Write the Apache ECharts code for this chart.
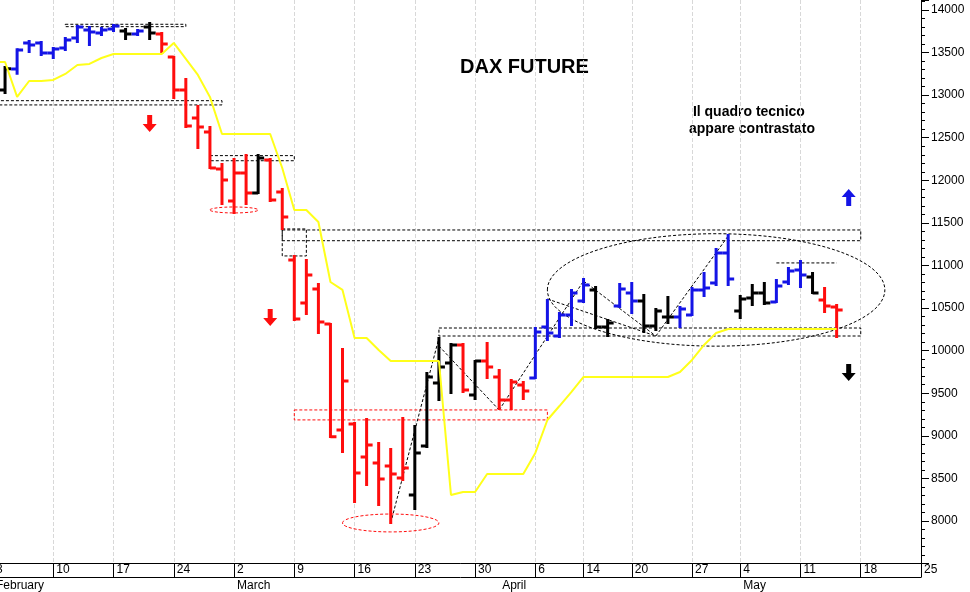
<!DOCTYPE html>
<html>
<head>
    <meta charset="UTF-8">
    <title>DAX Future</title>
    <script src="https://cdn.jsdelivr.net/npm/echarts@6/dist/echarts.min.js"></script>
</head>
<body style="margin:0;overflow:hidden;background:#fff">
<div id="chart" style="width:970px;height:592px"></div>
<script type="text/javascript">
    // trading days, Feb 3 .. May 25 (holidays Apr 10, Apr 13, May 1 left out)
    var days = [
        '02-03','02-04','02-05','02-06','02-07','02-10','02-11','02-12','02-13','02-14',
        '02-17','02-18','02-19','02-20','02-21','02-24','02-25','02-26','02-27','02-28',
        '03-02','03-03','03-04','03-05','03-06','03-09','03-10','03-11','03-12','03-13',
        '03-16','03-17','03-18','03-19','03-20','03-23','03-24','03-25','03-26','03-27',
        '03-30','03-31','04-01','04-02','04-03','04-06','04-07','04-08','04-09','04-14',
        '04-15','04-16','04-17','04-20','04-21','04-22','04-23','04-24','04-27','04-28',
        '04-29','04-30','05-04','05-05','05-06','05-07','05-08','05-11','05-12','05-13',
        '05-14','05-15','05-18','05-19','05-20','05-21','05-22','05-25'
    ];
    var weekLabels = {0: '3', 5: '10', 10: '17', 15: '24', 20: '2', 25: '9', 30: '16', 35: '23', 40: '30',
        45: '6', 49: '14', 53: '20', 58: '27', 62: '4', 67: '11', 72: '18', 77: '25'};
    var monthLabels = {0: 'February', 20: 'March', 42: 'April', 62: 'May'};

    var openVals = [13000,13060,13307,13612,13612,13495,13554,13671,13765,13730,
        13777,13753,13718,13800,13718,13448,13060,12732,12568,12133,
        11757,12086,11851,12238,11863,11065,10560,10724,10313,9069,
        9139,8752,8682,8646,8505,8306,8881,9621,9856,10067,
        9480,9879,9691,9421,9597,9679,10278,10173,10419,10584,
        10712,10278,10525,10677,10584,10290,10396,10396,10419,10712,
        10795,11147,10466,10618,10677,10572,10806,10947,10865,10595,10513];
    var highVals = [13100,13331,13540,13636,13624,13554,13671,13812,13800,13789,
        13824,13777,13765,13847,13730,13448,13190,12873,12626,12192,
        12250,12298,12298,12250,11898,11112,11065,10783,10313,10020,
        9150,9198,8916,8846,9210,9116,9738,10149,10078,10078,
        9879,10090,9773,9656,9633,10267,10595,10443,10712,10842,
        10748,10360,10783,10795,10654,10490,10630,10513,10736,10912,
        11194,11358,10642,10771,10795,10830,10971,11053,10912,10736,10537];
    var lowVals = [12950,13025,13250,13507,13471,13437,13530,13624,13589,13706,
        13753,13660,13706,13660,13495,12967,12626,12380,12145,11722,
        11617,11722,11851,11757,11429,10360,10430,10208,8987,8810,
        8224,8423,8188,7977,8482,8141,8869,9421,9503,9515,
        9433,9679,9315,9315,9433,9679,10126,10161,10302,10572,
        10267,10173,10513,10443,10220,10243,10325,10278,10419,10642,
        10771,10771,10384,10537,10548,10572,10783,10748,10677,10455,10161];
    var closeVals = [13060,13310,13530,13590,13495,13542,13648,13800,13742,13765,
        13812,13718,13753,13730,13600,13060,12638,12626,12145,12004,
        12086,11851,12262,11770,11570,10372,10889,10337,8990,9644,
        8564,8893,8494,8552,8623,8799,9691,9808,10067,9538,
        9879,9808,9421,9633,9527,10220,10208,10419,10677,10771,
        10278,10325,10724,10584,10290,10466,10396,10490,10712,10736,
        11147,10842,10607,10677,10560,10760,10936,10889,10677,10525,10478];
    // b = rialzo, r = ribasso, k = neutrale
    var trend = ['k','k','b','b','b','b','b','b','b','b',
        'b','k','b','k','r','r','r','r','r','r',
        'r','r','k','r','r','r','r','r','r','r',
        'r','r','r','r','r','k','k','k','k','r',
        'k','r','r','r','r','b','b','b','b','b',
        'k','k','b','b','k','k','k','b','b','b',
        'b','b','k','k','k','b','b','b','k','r','r'];
    var stopLine = [13389,13389,12979,13166,13166,13178,13249,13354,13366,13436,
        13483,13483,13483,13483,13483,13613,13425,13237,12979,12544,
        12544,12544,12544,12544,12145,11652,11652,11511,10806,10713,
        10149,10149,10008,9879,9879,9879,9879,9879,8306,8341,
        8341,8552,8552,8552,8552,8799,9186,9350,9515,9691,
        9691,9691,9691,9691,9691,9691,9691,9750,9891,10067,
        10208,10255,10255,10255,10255,10255,10255,10255,10255,10255,10255];

    // annotation boxes: [x0, x1, yLow, yHigh, colour]
    var boxes = [
        [6.2, 16.0, 13804, 13832, 'k'],
        [-0.6, 18.9, 12885, 12935, 'k'],
        [18.0, 25.0, 12230, 12290, 'k'],
        [24.0, 71.8, 11291, 11417, 'k'],
        [24.0, 26.0, 11112, 11429, 'k'],
        [36.9, 71.8, 10172, 10266, 'k'],
        [25.0, 45.8, 9187, 9304, 'r']
    ];
    // trend lines: [x0, y0, x1, y1]
    var segments = [
        [64.75, 11030, 69.6, 11030],
        [33.0, 7977, 37.0, 10149],
        [37.4, 10055, 41.9, 9303],
        [41.9, 9303, 48.9, 10818],
        [48.9, 10818, 55.2, 10172],
        [46.2, 10607, 54.8, 10172],
        [55.2, 10172, 61.0, 11346]
    ];
    // ellipses: [cx, cy, halfWidth (days), halfHeight (points), colour]
    var ellipses = [
        [19.9, 11652, 2.0, 35, 'r'],
        [32.9, 7977, 3.9, 105, 'r'],
        [59.8, 10713, 13.9, 660, 'k']
    ];
    // arrows: [x, y, direction, colour]
    var arrows = [
        [13.0, 12662, 'down', 'r'],
        [22.9, 10384, 'down', 'r'],
        [70.8, 11804, 'up', 'b'],
        [70.8, 9738, 'down', 'k']
    ];

    var colors = {b: '#1414e6', r: '#ff0d0d', k: '#000000'};
    var bars = openVals.map(function (o, i) {
        return [i, o, closeVals[i], lowVals[i], highVals[i], trend[i]];
    });

    var chart = echarts.init(document.getElementById('chart'));
    var option = {
        animation: false,
        backgroundColor: '#fff',
        grid: {left: -7, right: 49, top: 0, bottom: 28.4, outerBoundsMode: 'none', containLabel: false},
        xAxis: {
            type: 'category',
            data: days,
            boundaryGap: false,
            axisLine: {lineStyle: {color: '#000', width: 1}},
            axisTick: {
                length: 14, lineStyle: {color: '#000'},
                interval: function (i) { return weekLabels[i] !== undefined; }
            },
            axisLabel: {
                interval: function (i) { return weekLabels[i] !== undefined || monthLabels[i] !== undefined; },
                formatter: function (v, i) {
                    return (weekLabels[i] || '') + '\n' + (monthLabels[i] || '');
                },
                align: 'left', padding: [0, 0, 0, 3], margin: -2, lineHeight: 16,
                fontSize: 12, color: '#000', fontFamily: 'Liberation Sans'
            },
            splitLine: {
                show: true,
                interval: function (i) { return weekLabels[i] !== undefined; },
                lineStyle: {color: '#d8d8d8', type: 'dashed'}
            }
        },
        yAxis: {
            type: 'value',
            position: 'right',
            min: 7500, max: 14117, interval: 500,
            axisLine: {show: true, lineStyle: {color: '#000'}},
            axisTick: {show: true, length: 8, lineStyle: {color: '#000'}},
            minorTick: {show: true, splitNumber: 5, length: 4, lineStyle: {color: '#000'}},
            splitLine: {show: false},
            axisLabel: {
                margin: 10, fontSize: 12, color: '#000', fontFamily: 'Liberation Sans',
                showMinLabel: false, showMaxLabel: false,
                formatter: function (v) { return String(v); }
            }
        },
        graphic: [
            {type: 'line', shape: {x1: 0, y1: 577.5, x2: 921, y2: 577.5}, style: {stroke: '#000', lineWidth: 1}},
            {type: 'text', left: 460, top: 57, style: {text: 'DAX FUTURE', font: 'bold 20px Liberation Sans', fill: '#000'}},
            {type: 'text', left: 689, top: 104, style: {text: ' Il quadro tecnico\nappare contrastato', font: 'bold 14px Liberation Sans', fill: '#000', lineHeight: 17}}
        ],
        series: [
            {
                name: 'boxes', type: 'custom', data: boxes, clip: true, z: 1,
                renderItem: function (params, api) {
                    var p0 = api.coord([api.value(0), api.value(3)]);
                    var p1 = api.coord([api.value(1), api.value(2)]);
                    var c = colors[boxes[params.dataIndex][4]];
                    return {type: 'rect', shape: {x: p0[0], y: p0[1], width: p1[0] - p0[0], height: p1[1] - p0[1]},
                        style: {fill: null, stroke: c, lineWidth: 1, lineDash: [3, 2]}};
                }
            },
            {
                name: 'trendlines', type: 'custom', data: segments, clip: true, z: 1,
                renderItem: function (params, api) {
                    var p0 = api.coord([api.value(0), api.value(1)]);
                    var p1 = api.coord([api.value(2), api.value(3)]);
                    return {type: 'line', shape: {x1: p0[0], y1: p0[1], x2: p1[0], y2: p1[1]},
                        style: {stroke: '#000', lineWidth: 1, lineDash: [3, 2]}};
                }
            },
            {
                name: 'ellipses', type: 'custom', data: ellipses, clip: true, z: 1,
                renderItem: function (params, api) {
                    var cx = api.value(0), cy = api.value(1);
                    var c = api.coord([cx, cy]);
                    var e = api.coord([cx + api.value(2), cy + api.value(3)]);
                    return {type: 'ellipse', shape: {cx: c[0], cy: c[1], rx: Math.abs(e[0] - c[0]), ry: Math.abs(e[1] - c[1])},
                        style: {fill: null, stroke: colors[ellipses[params.dataIndex][4]], lineWidth: 1, lineDash: [3, 2]}};
                }
            },
            {
                name: 'DAX', type: 'custom', data: bars, clip: true, z: 2,
                renderItem: function (params, api) {
                    var x = api.value(0);
                    var o = api.coord([x, api.value(1)]);
                    var c = api.coord([x, api.value(2)]);
                    var l = api.coord([x, api.value(3)]);
                    var h = api.coord([x, api.value(4)]);
                    var col = colors[bars[params.dataIndex][5]];
                    var st = {stroke: col, lineWidth: 3};
                    return {type: 'group', children: [
                        {type: 'line', shape: {x1: h[0], y1: h[1] - 1, x2: l[0], y2: l[1] + 1}, style: st},
                        {type: 'line', shape: {x1: o[0] - 6, y1: o[1], x2: o[0], y2: o[1]}, style: st},
                        {type: 'line', shape: {x1: c[0], y1: c[1], x2: c[0] + 6, y2: c[1]}, style: st}
                    ]};
                }
            },
            {
                name: 'stop', type: 'line', data: stopLine, showSymbol: false, z: 3,
                lineStyle: {color: '#ffff1a', width: 2}
            },
            {
                name: 'arrows', type: 'custom', data: arrows, clip: true, z: 4,
                renderItem: function (params, api) {
                    var p = api.coord([api.value(0), api.value(1)]);
                    var a = arrows[params.dataIndex];
                    var d = a[2] === 'down' ? 1 : -1;
                    var x = p[0], y = p[1];
                    return {type: 'polygon', shape: {points: [
                        [x - 2.5, y - 9 * d], [x + 2.5, y - 9 * d], [x + 2.5, y], [x + 7, y],
                        [x, y + 8 * d], [x - 7, y], [x - 2.5, y]
                    ]}, style: {fill: colors[a[3]]}};
                }
            }
        ]
    };
    chart.setOption(option);
</script>
</body>
</html>
